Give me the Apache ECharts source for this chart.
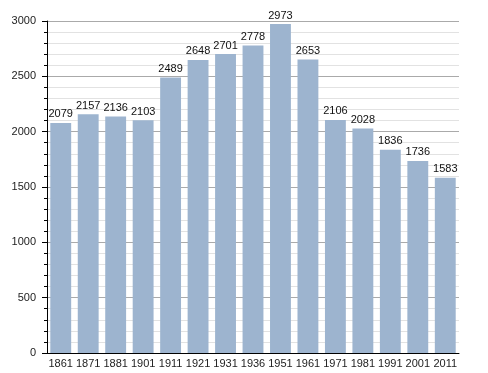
<!DOCTYPE html>
<html><head><meta charset="utf-8">
<script src="https://cdn.jsdelivr.net/npm/echarts@6/dist/echarts.min.js"></script>
<style>html,body{margin:0;padding:0;background:#fff}#c{width:488px;height:373px}</style>
</head><body><div id="c"></div>
<script>
const categories = ['1861','1871','1881','1901','1911','1921','1931','1936','1951','1961','1971','1981','1991','2001','2011'];
const population = [2079,2157,2136,2103,2489,2648,2701,2778,2973,2653,2106,2028,1836,1736,1583];
const yTicks = [0,500,1000,1500,2000,2500,3000];

const chart = echarts.init(document.getElementById('c'), null, {renderer:'canvas'});
const font = 'Liberation Sans, Arial, sans-serif';
chart.setOption({
  animation:false,
  grid:{left:47,right:29,top:21,bottom:20,containLabel:false},
  xAxis:{
    type:'category', data:categories,
    axisLine:{lineStyle:{color:'#000',width:1}},
    axisTick:{show:false},
    axisLabel:{color:'#222',fontFamily:font,fontSize:11,margin:5,interval:0}
  },
  yAxis:{
    type:'value', min:yTicks[0], max:yTicks[yTicks.length-1], interval:500,
    axisLine:{show:true,lineStyle:{color:'#000',width:1}},
    axisTick:{show:true,length:5,lineStyle:{color:'#000'}},
    minorTick:{show:true,splitNumber:5,length:3,lineStyle:{color:'#000'}},
    axisLabel:{color:'#222',fontFamily:font,fontSize:11,margin:11,formatter:v=>String(v)},
    splitLine:{show:true,lineStyle:{color:'#aaa',width:1}},
    minorSplitLine:{show:true,lineStyle:{color:'#e2e2e2',width:1}}
  },
  series:[{
    type:'bar', data:population, barCategoryGap:'24%',
    itemStyle:{color:'#9db4cf'},
    label:{show:true,position:'top',distance:3,color:'#111',fontFamily:font,fontSize:11}
  }]
});
</script></body></html>
